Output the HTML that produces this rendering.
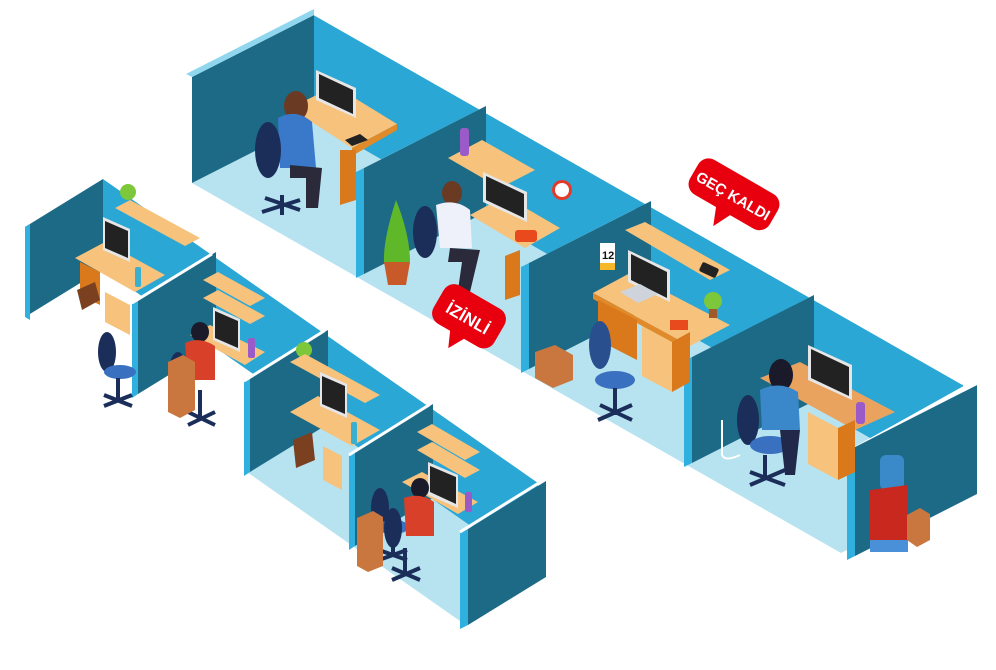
<!DOCTYPE html>
<html><head><meta charset="utf-8"><style>
html,body{margin:0;padding:0;background:#fff}
svg{display:block}
text{font-family:"Liberation Sans",sans-serif;font-weight:bold;fill:#fff}
</style></head><body>
<svg width="996" height="670" viewBox="0 0 996 670" xmlns="http://www.w3.org/2000/svg">
<!-- BACK ROW -->
<polygon points="314,121 963,491 841,553 192,183" fill="#b7e3f1"/>
<polygon points="314,15 963,385 963,491 314,121" fill="#2aa7d5"/>
<polyline points="314,13 963,383" stroke="#fff" stroke-width="4" fill="none"/>
<polygon points="192,77 314,15 314,121 192,183" fill="#1d6a87"/>
<polygon points="186,74 314,9 314,15 192,77" fill="#8fd6ee"/>
<g>
<polygon points="486,106 364,168 364,274 486,212" fill="#1d6a87"/>
<polygon points="356,172 364,168 364,274 356,278" fill="#2fb0df"/>
<polygon points="356,172 478,110 486,106 364,168" fill="#fff"/>
<polygon points="651,201 529,263 529,369 651,307" fill="#1d6a87"/>
<polygon points="521,267 529,263 529,369 521,373" fill="#2fb0df"/>
<polygon points="521,267 643,205 651,201 529,263" fill="#fff"/>
<polygon points="814,295 692,357 692,463 814,401" fill="#1d6a87"/>
<polygon points="684,361 692,357 692,463 684,467" fill="#2fb0df"/>
<polygon points="684,361 806,299 814,295 692,357" fill="#fff"/>
<polygon points="977,385 855,447 855,556 977,494" fill="#1d6a87"/>
<polygon points="847,451 855,447 855,556 847,560" fill="#2fb0df"/>
<polygon points="847,451 969,383 977,385 855,447" fill="#fff"/>
</g>
<!-- B1 furniture -->
<polygon points="290,108 335,86 397,124 352,148" fill="#f6c27c"/>
<polygon points="352,148 397,124 397,130 352,156" fill="#e08a2a"/>
<polygon points="340,150 356,150 356,200 340,205" fill="#d9791b"/>
<polygon points="316,70 356,88 356,118 316,100" fill="#e6e6e6"/>
<polygon points="319,74 353,90 353,114 319,98" fill="#222"/>
<polygon points="345,140 360,134 368,140 352,146" fill="#222"/>
<ellipse cx="296" cy="106" rx="12" ry="15" fill="#6a3a22"/>
<path d="M278 118 Q296 108 312 122 L316 168 L280 168 Z" fill="#3a78c9"/>
<ellipse cx="268" cy="150" rx="13" ry="28" fill="#1b2e5a"/>
<path d="M290 165 L322 168 L318 208 L306 208 L306 178 L290 178Z" fill="#2a2a3a"/>
<path d="M265 198 L300 210 M282 195 L282 215 M262 212 L300 200" stroke="#1b2e5a" stroke-width="4"/>
<!-- B2 -->
<polygon points="448,158 482,140 535,170 500,188" fill="#f6c27c"/>
<rect x="460" y="128" width="9" height="28" rx="3" fill="#9a5ac8"/>
<path d="M396 200 Q383 240 384 262 L410 262 Q410 235 396 200Z" fill="#5eb82a"/>
<polygon points="384,262 410,262 406,285 388,285" fill="#c85a2a"/>
<polygon points="470,215 505,196 560,228 525,248" fill="#f6c27c"/>
<polygon points="505,256 520,250 520,295 505,300" fill="#d9791b"/>
<polygon points="483,172 527,192 527,222 483,202" fill="#e6e6e6"/>
<polygon points="486,176 524,194 524,218 486,200" fill="#222"/>
<rect x="515" y="230" width="22" height="12" rx="3" fill="#e84a1e"/>
<circle cx="562" cy="190" r="10" fill="#e53a2a"/><circle cx="562" cy="190" r="7" fill="#fff"/>
<ellipse cx="452" cy="193" rx="10" ry="12" fill="#6a3a22"/>
<path d="M436 205 Q455 198 470 210 L472 248 L440 248Z" fill="#eef0fa"/>
<ellipse cx="425" cy="232" rx="12" ry="26" fill="#1b2e5a"/>
<path d="M450 248 L480 250 L470 292 L458 290 L462 262 L448 262Z" fill="#2a2a3a"/>
<!-- B3 -->
<rect x="600" y="243" width="15" height="20" fill="#fff"/><rect x="600" y="263" width="15" height="7" fill="#f5b82a"/>
<text x="602" y="259" font-size="11" style="fill:#111">12</text>
<polygon points="625,230 645,222 730,270 710,280" fill="#f6c27c"/>
<rect x="700" y="265" width="18" height="10" rx="2" fill="#222" transform="rotate(25 709 270)"/>
<polygon points="593,293 630,273 730,325 690,346" fill="#f6c27c"/>
<polygon points="593,293 690,346 690,352 593,299" fill="#e08a2a"/>
<polygon points="598,300 637,320 637,360 598,340" fill="#d9791b"/>
<polygon points="642,326 672,342 672,392 642,376" fill="#f6c27c"/>
<polygon points="672,342 690,332 690,382 672,392" fill="#d9791b"/>
<polygon points="628,250 670,270 670,302 628,282" fill="#e6e6e6"/>
<polygon points="631,254 667,272 667,298 631,280" fill="#222"/>
<polygon points="620,292 640,284 658,294 638,303" fill="#cfd4dc"/>
<rect x="670" y="320" width="18" height="10" fill="#e84a1e"/>
<circle cx="713" cy="301" r="9" fill="#7cc83a"/><rect x="709" y="309" width="8" height="9" fill="#a05a2a"/>
<ellipse cx="600" cy="345" rx="11" ry="24" fill="#2a4f8f"/>
<ellipse cx="615" cy="380" rx="20" ry="9" fill="#3a70c0"/>
<path d="M615 388 L615 415 M598 420 L632 405 M600 405 L632 420" stroke="#1b2e5a" stroke-width="4"/>
<polygon points="535,352 555,345 573,355 573,380 553,388 535,378" fill="#c9773f"/>
<!-- B4 -->
<polygon points="760,378 800,362 895,412 855,430" fill="#e9a35f"/>
<polygon points="808,412 838,428 838,480 808,464" fill="#f6c27c"/>
<polygon points="838,428 855,420 855,472 838,480" fill="#d9791b"/>
<polygon points="808,345 852,365 852,400 808,380" fill="#e6e6e6"/>
<polygon points="811,349 849,367 849,396 811,378" fill="#222"/>
<rect x="856" y="402" width="9" height="22" rx="3" fill="#9a5ac8"/>
<ellipse cx="781" cy="375" rx="12" ry="16" fill="#1a1a2a"/>
<path d="M760 390 Q780 380 798 392 L800 430 L762 430Z" fill="#3a88c9"/>
<ellipse cx="748" cy="420" rx="11" ry="25" fill="#1b2e5a"/>
<ellipse cx="770" cy="445" rx="20" ry="9" fill="#3a70c0"/>
<path d="M780 430 L800 430 L795 475 L785 475Z" fill="#22284a"/>
<path d="M765 455 L765 480 M750 485 L785 470 M750 472 L785 485" stroke="#1b2e5a" stroke-width="4"/>
<path d="M722 420 L722 455 Q725 462 740 455" stroke="#fff" stroke-width="2" fill="none"/>
<rect x="880" y="455" width="24" height="35" rx="6" fill="#3a8ac9"/>
<polygon points="870,490 908,485 908,545 870,550" fill="#c8281e"/>
<rect x="870" y="540" width="38" height="12" fill="#4a90d9"/>
<polygon points="907,515 920,508 930,514 930,540 917,547 907,540" fill="#c9773f"/>
<!-- LABELS -->
<g transform="translate(468,318) rotate(30)">
<rect x="-35" y="-24" width="70" height="44" rx="12" fill="#e8000e"/>
<polygon points="-10,18 8,18 -2,36" fill="#e8000e"/>
<text x="0" y="6" font-size="17" text-anchor="middle">İZİNLİ</text>
</g>
<g transform="translate(733,196) rotate(30)">
<rect x="-46" y="-22" width="92" height="40" rx="12" fill="#e8000e"/>
<polygon points="-10,16 8,16 -2,36" fill="#e8000e"/>
<text x="0" y="5" font-size="15" text-anchor="middle">GEÇ KALDI</text>
</g>

<!-- FRONT ROW -->
<polygon points="322,422 538,573 460,621 244,470" fill="#b7e3f1"/>
<polygon points="103,179 538,483 538,573 103,269" fill="#2aa7d5"/>
<polyline points="103,177 538,481" stroke="#fff" stroke-width="3" fill="none"/>
<polygon points="25,227 103,179 103,269 25,317" fill="#1d6a87"/>
<polygon points="25,227 30,224 30,320 25,317" fill="#2fb0df"/>
<polygon points="216,252 138,300 138,394 216,346" fill="#1d6a87"/>
<polygon points="132,304 138,300 138,394 132,398" fill="#2fb0df"/>
<polyline points="132,303 212,254" stroke="#fff" stroke-width="3"/>
<polygon points="328,330 250,378 250,472 328,424" fill="#1d6a87"/>
<polygon points="244,382 250,378 250,472 244,476" fill="#2fb0df"/>
<polyline points="244,381 324,331" stroke="#fff" stroke-width="3"/>
<polygon points="433,404 355,452 355,546 433,498" fill="#1d6a87"/>
<polygon points="349,456 355,452 355,546 349,550" fill="#2fb0df"/>
<polyline points="349,455 429,405" stroke="#fff" stroke-width="3"/>
<polygon points="546,481 468,529 468,625 546,577" fill="#1d6a87"/>
<polygon points="460,533 468,529 468,625 460,629" fill="#2fb0df"/>
<polyline points="460,532 542,481" stroke="#fff" stroke-width="3"/>
<!-- L1 -->
<circle cx="128" cy="192" r="8" fill="#7cc83a"/>
<polygon points="115,208 130,200 200,238 185,246" fill="#f6c27c"/>
<polygon points="75,258 105,242 165,275 135,292" fill="#f6c27c"/>
<polygon points="105,292 130,305 130,335 105,322" fill="#f6c27c"/>
<polygon points="80,262 100,272 100,305 80,295" fill="#d9791b"/>
<polygon points="103,217 130,229 130,262 103,250" fill="#e6e6e6"/>
<polygon points="105,221 128,231 128,258 105,248" fill="#222"/>
<rect x="135" y="267" width="6" height="20" rx="2" fill="#3ab0d0"/>
<polygon points="77,290 95,282 100,300 82,310" fill="#7a4020"/>
<ellipse cx="107" cy="352" rx="9" ry="20" fill="#1b2e5a"/>
<ellipse cx="120" cy="372" rx="16" ry="7" fill="#3a70c0"/>
<path d="M118 378 L118 400 M104 406 L132 395 M104 395 L132 406" stroke="#1b2e5a" stroke-width="4"/>
<!-- L2 -->
<polygon points="203,280 218,272 265,298 250,306" fill="#f6c27c"/>
<polygon points="203,298 218,290 265,316 250,324" fill="#f6c27c"/>
<polygon points="190,335 210,325 265,352 245,365" fill="#f6c27c"/>
<polygon points="213,307 240,319 240,352 213,340" fill="#e6e6e6"/>
<polygon points="215,311 238,321 238,348 215,338" fill="#222"/>
<rect x="248" y="338" width="7" height="20" rx="2" fill="#9a5ac8"/>
<ellipse cx="200" cy="332" rx="9" ry="10" fill="#1a1a2a"/>
<path d="M185 343 Q200 336 215 346 L215 380 L188 380Z" fill="#d8402a"/>
<ellipse cx="178" cy="372" rx="9" ry="20" fill="#1b2e5a"/>
<path d="M200 390 L200 420 M188 425 L215 412 M188 412 L215 425" stroke="#1b2e5a" stroke-width="4"/>
<polygon points="168,362 183,355 195,362 195,410 180,418 168,412" fill="#c9773f"/>
<!-- L3 -->
<circle cx="304" cy="350" r="8" fill="#7cc83a"/>
<polygon points="290,362 305,354 380,395 365,403" fill="#f6c27c"/>
<polygon points="290,412 318,396 380,430 352,446" fill="#f6c27c"/>
<polygon points="320,372 347,384 347,418 320,406" fill="#e6e6e6"/>
<polygon points="322,376 345,386 345,414 322,404" fill="#222"/>
<polygon points="323,446 342,456 342,490 323,480" fill="#f6c27c"/>
<rect x="351" y="422" width="6" height="22" rx="2" fill="#3ab0d0"/>
<polygon points="293,440 312,432 315,460 296,468" fill="#7a4020"/>
<ellipse cx="380" cy="508" rx="9" ry="20" fill="#1b2e5a"/>
<ellipse cx="393" cy="527" rx="16" ry="7" fill="#3a70c0"/>
<path d="M393 533 L393 555 M379 560 L407 550 M379 550 L407 560" stroke="#1b2e5a" stroke-width="4"/>
<!-- L4 -->
<polygon points="417,432 432,424 480,452 465,460" fill="#f6c27c"/>
<polygon points="417,450 432,442 480,470 465,478" fill="#f6c27c"/>
<polygon points="402,482 422,472 478,502 458,514" fill="#f6c27c"/>
<polygon points="428,462 458,475 458,508 428,495" fill="#e6e6e6"/>
<polygon points="430,466 456,477 456,504 430,492" fill="#222"/>
<rect x="465" y="492" width="7" height="20" rx="2" fill="#9a5ac8"/>
<ellipse cx="420" cy="488" rx="9" ry="10" fill="#1a1a2a"/>
<path d="M404 498 Q420 492 434 502 L434 536 L406 536Z" fill="#d8402a"/>
<ellipse cx="393" cy="528" rx="9" ry="20" fill="#1b2e5a"/>
<path d="M405 548 L405 575 M392 580 L420 568 M392 568 L420 580" stroke="#1b2e5a" stroke-width="4"/>
<polygon points="357,518 373,511 383,517 383,566 368,572 357,566" fill="#c9773f"/>
</svg>
</body></html>
